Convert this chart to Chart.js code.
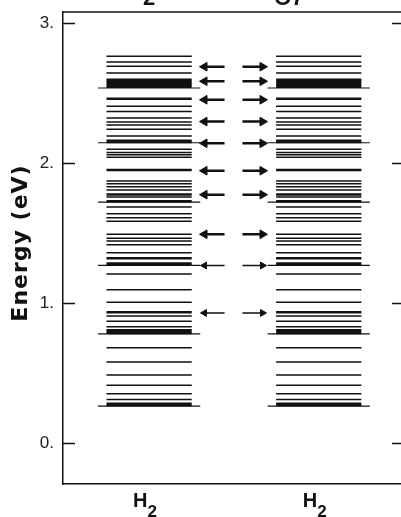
<!DOCTYPE html>
<html>
<head>
<meta charset="utf-8">
<script src="https://cdn.jsdelivr.net/npm/chart.js@4.4.0/dist/chart.umd.min.js"></script>
<style>
  html, body { margin: 0; padding: 0; background: #fff; overflow: hidden; }
  #wrap { width: 401px; height: 517px; overflow: hidden; }
  #levels { width: 410px; height: 517px; }
</style>
</head>
<body>
<div id="wrap"><canvas id="levels" width="410" height="517"></canvas></div>
<script>
// energy levels (eV), same set in both columns
const normalLevels = [2.762, 2.721, 2.691, 2.643, 2.405, 2.369, 2.321, 2.293, 2.271, 2.241, 2.193,
  2.098, 2.076, 2.060, 2.041, 1.871, 1.852, 1.830, 1.807, 1.757, 1.686, 1.638, 1.609, 1.584,
  1.491, 1.462, 1.443, 1.416, 1.359, 1.207, 1.095, 1.005, 0.907, 0.869, 0.830,
  0.681, 0.578, 0.486, 0.413, 0.352, 0.310];
const strongLevels = [2.595, 2.585, 2.575, 2.565, 2.555, 2.545, 2.459, 2.159, 2.150, 1.950,
  1.776, 1.727, 1.319, 1.283, 1.274, 0.934, 0.805, 0.795, 0.786, 0.280, 0.271];
const edgeLevels = [2.536, 2.145, 1.721, 1.269, 0.779, 0.264];

// transitions marked with arrows between the columns
const boldArrows = [2.688, 2.584, 2.452, 2.296, 2.141, 1.945, 1.774, 1.491];
const fineArrows = [1.268, 0.929];

const columnCenters = [1.01, 3.0];
const columnLabels = [["H", "2"], ["H", "2"]];
const yTicks = [0, 1, 2, 3];
const yTitle = "Energy (eV)";
const topFragments = [["2", 149], ["O7", 289]];

// layout in x-axis units
const levelHalf = 0.5;
const edgeHalf = 0.6;
const leftShaft = [1.625, 1.895];
const rightShaft = [2.105, 2.36];
const leftHead = 1.66;
const rightHead = 2.34;

const levelSegments = (levels, half) => {
  const pts = [];
  columnCenters.forEach((c) => {
    levels.forEach((e) => {
      pts.push({ x: c - half, y: e }, { x: c + half, y: e }, { x: c + half, y: null });
    });
  });
  return pts;
};

const arrowShafts = (energies) => {
  const pts = [];
  energies.forEach((e) => {
    pts.push({ x: leftShaft[0], y: e }, { x: leftShaft[1], y: e }, { x: leftShaft[1], y: null });
    pts.push({ x: rightShaft[0], y: e }, { x: rightShaft[1], y: e }, { x: rightShaft[1], y: null });
  });
  return pts;
};

const arrowHeads = (energies) => energies.flatMap((e) => [{ x: leftHead, y: e }, { x: rightHead, y: e }]);

const ink = "#111";

const lineSet = (data, width) => ({
  data,
  showLine: true,
  spanGaps: false,
  borderColor: ink,
  borderWidth: width,
  pointRadius: 0,
});

const headSet = (data, radius) => ({
  data,
  showLine: false,
  pointStyle: "triangle",
  pointRadius: radius,
  pointRotation: (ctx) => (ctx.dataIndex % 2 === 0 ? -90 : 90),
  backgroundColor: ink,
  borderColor: ink,
  borderWidth: 1,
});

// frame, inward ticks, axis title and column labels
const frame = {
  id: "frame",
  afterDraw(chart) {
    const { ctx, chartArea: a, scales } = chart;
    const x = scales.x;
    const y = scales.y;
    ctx.save();
    ctx.strokeStyle = ink;
    ctx.lineWidth = 1.5;
    ctx.beginPath();
    ctx.moveTo(a.left, a.top);
    ctx.lineTo(a.right, a.top);
    yTicks.forEach((v) => {
      const py = Math.round(y.getPixelForValue(v)) + 0.5;
      ctx.moveTo(a.left, py);
      ctx.lineTo(a.left + 12, py);
      ctx.moveTo(a.right - 12, py);
      ctx.lineTo(a.right, py);
    });
    ctx.stroke();

    ctx.fillStyle = ink;
    // cut-off caption at the very top
    ctx.font = 'bold 22px "Liberation Sans"';
    ctx.textAlign = "center";
    ctx.textBaseline = "alphabetic";
    topFragments.forEach(([t, px]) => ctx.fillText(t, px, 5));

    // column labels with subscript
    columnLabels.forEach(([main, sub], i) => {
      const px = x.getPixelForValue(columnCenters[i]) - 16;
      ctx.textAlign = "left";
      ctx.font = 'bold 20px "Liberation Sans"';
      ctx.fillText(main, px, 507);
      const w = ctx.measureText(main).width;
      ctx.font = 'bold 17px "Liberation Sans"';
      ctx.fillText(sub, px + w, 517);
    });

    // rotated y title
    ctx.font = 'bold 22px "DejaVu Sans"';
    ctx.letterSpacing = "1px";
    ctx.translate(27, 243);
    ctx.rotate(-Math.PI / 2);
    ctx.textAlign = "center";
    ctx.fillText(yTitle, 0, 0);
    ctx.restore();
  },
};

Chart.defaults.font.family = '"Liberation Sans", Arial, sans-serif';

new Chart(document.getElementById("levels"), {
  type: "scatter",
  data: {
    datasets: [
      lineSet(levelSegments(normalLevels, levelHalf), 1.5),
      lineSet(levelSegments(strongLevels, levelHalf), 2.5),
      lineSet(levelSegments(edgeLevels, edgeHalf), 1.2),
      lineSet(arrowShafts(boldArrows), 2.5),
      lineSet(arrowShafts(fineArrows), 1.5),
      headSet(arrowHeads(boldArrows), 5),
      headSet(arrowHeads(fineArrows), 4),
    ],
  },
  options: {
    responsive: false,
    animation: false,
    events: [],
    layout: { padding: { top: 12, right: 5, left: 0, bottom: 0 } },
    plugins: {
      legend: { display: false },
      tooltip: { enabled: false },
    },
    scales: {
      x: {
        type: "linear",
        min: 0,
        max: 4,
        grid: { display: false, drawTicks: false },
        border: { display: true, color: ink, width: 1.5 },
        ticks: { display: false },
        afterFit: (s) => { s.height = 33; s.paddingLeft = 0; s.paddingRight = 0; },
      },
      y: {
        type: "linear",
        min: -0.293,
        max: 3.079,
        grid: { display: false, drawTicks: false },
        border: { display: true, color: ink, width: 1.5 },
        afterBuildTicks: (s) => { s.ticks = yTicks.map((v) => ({ value: v })); },
        ticks: {
          color: "#222",
          padding: 9,
          font: { size: 17 },
          callback: (v) => v + ".",
        },
        afterFit: (s) => { s.width = 63; s.paddingTop = 0; s.paddingBottom = 0; },
      },
    },
  },
  plugins: [frame],
});
</script>
</body>
</html>
